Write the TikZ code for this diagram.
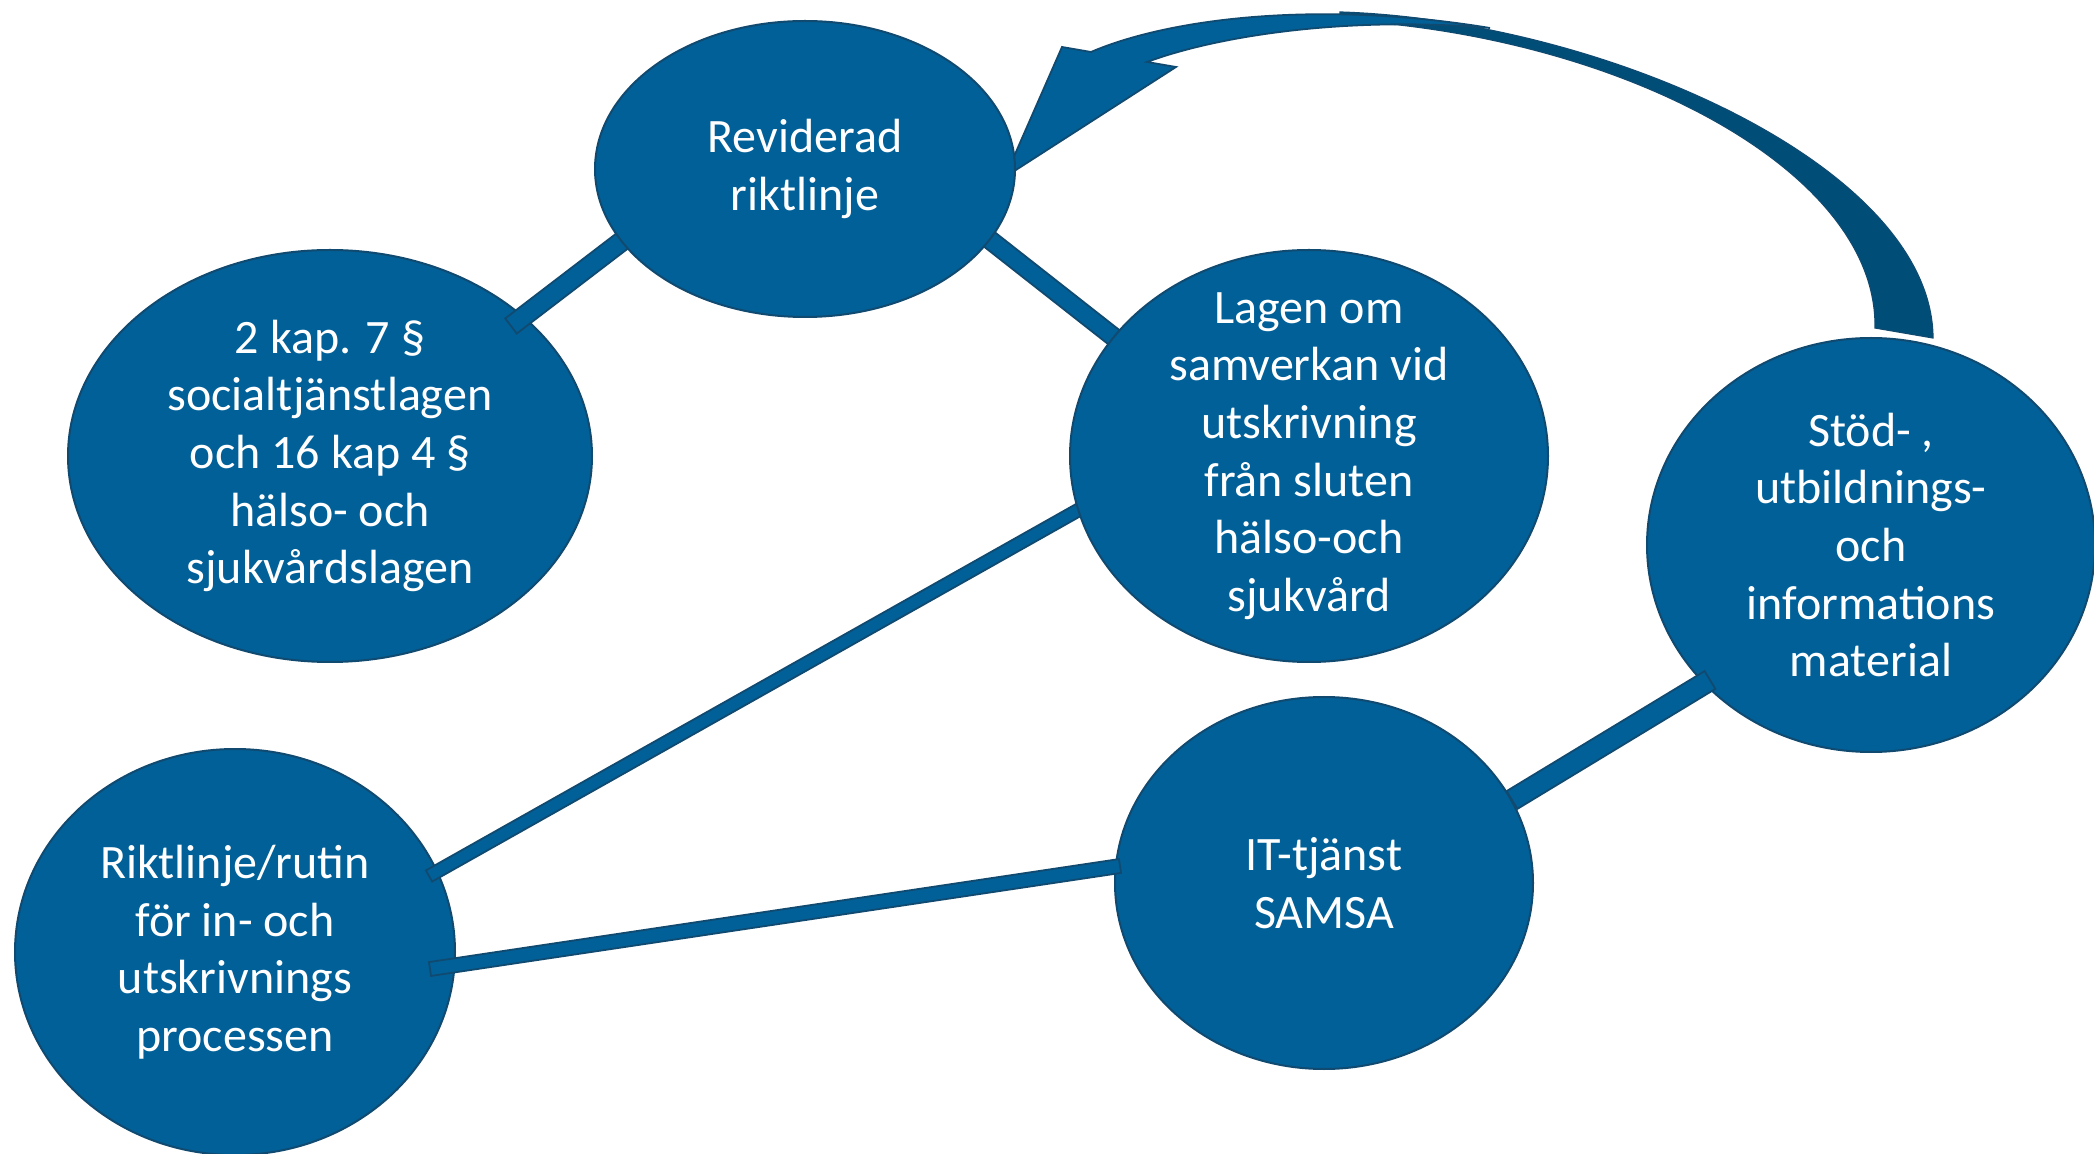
\documentclass[tikz,border=0pt]{standalone}
\usepackage{fontspec}
\setmainfont{Carlito}
\usetikzlibrary{shapes.geometric,calc}
\definecolor{fillc}{RGB}{1,96,152}
\definecolor{edgec}{RGB}{16,74,112}
\definecolor{darkc}{RGB}{0,78,120}
\tikzset{
  bubble/.style={ellipse, fill=fillc, draw=edgec, line width=1pt, text=white,
    align=center, inner sep=-25pt, font=\fontsize{24}{28.8}\selectfont,
    execute at begin node={\rule{0pt}{21pt}}},
  barshape/.style={fill=fillc, draw=edgec, line width=0.9pt},
  arrowfront/.style={fill=fillc, draw=edgec, line width=0.9pt},
  arrowback/.style={fill=darkc, draw=edgec, line width=0.6pt},
}
\newcommand\connbar[3]{\filldraw[barshape] ($(#1)!#3!90:(#2)$) -- ($(#1)!#3!-90:(#2)$) -- ($(#2)!#3!90:(#1)$) -- ($(#2)!#3!-90:(#1)$) -- cycle;}
\begin{document}
\begin{tikzpicture}[x=0.5pt,y=-0.5pt]
\useasboundingbox (0,0) rectangle (2094,1154);
% curved arrow
\filldraw[arrowback] (1340,12) .. controls (1600,20) and (1932,165) .. (1933,338)
  -- (1875,328) .. controls (1878,170) and (1620,35) .. (1340,20) -- cycle;
\filldraw[arrowfront] (1005,177) -- (1062,47) -- (1091,52)
  .. controls (1170,18) and (1320,0) .. (1490,28)
  .. controls (1350,16) and (1220,35) .. (1147,62) -- (1176,67) -- cycle;
% lower nodes
\node[bubble, minimum width=262pt, minimum height=206pt] (kap) at (330,456)
  {2 kap. 7 §\\socialtjänstlagen\\och 16 kap 4 §\\hälso- och\\sjukvårdslagen};
\node[bubble, minimum width=220pt, minimum height=203pt] (rik) at (235,952)
  {Riktlinje/rutin\\för in- och\\utskrivnings\\processen};
\node[bubble, minimum width=209pt, minimum height=186pt] (it) at (1324,883)
  {IT-tjänst\\SAMSA};
\node[bubble, minimum width=224pt, minimum height=207pt] (stod) at (1871,545)
  {Stöd- ,\\utbildnings-\\och\\informations\\material};
% connector ends
\coordinate (a1) at (511,326); \coordinate (a2) at (630,235);
\coordinate (b1) at (985,236); \coordinate (b2) at (1120,342);
\coordinate (c1) at (429,876); \coordinate (c2) at (1082,508);
\coordinate (d1) at (430,969); \coordinate (d2) at (1120,866);
\coordinate (e1) at (1512,800); \coordinate (e2) at (1710,680);
\connbar{a1}{a2}{4.75pt}
\connbar{b1}{b2}{4.5pt}
\connbar{c1}{c2}{3.2pt}
\connbar{d1}{d2}{3.5pt}
\connbar{e1}{e2}{5.2pt}
% upper nodes
\node[bubble, minimum width=210pt, minimum height=148pt] (rev) at (805,169)
  {Reviderad\\riktlinje};
\node[bubble, minimum width=239pt, minimum height=206pt] (lag) at (1309,456)
  {Lagen om\\samverkan vid\\utskrivning\\från sluten\\hälso-och\\sjukvård};
\end{tikzpicture}
\end{document}
